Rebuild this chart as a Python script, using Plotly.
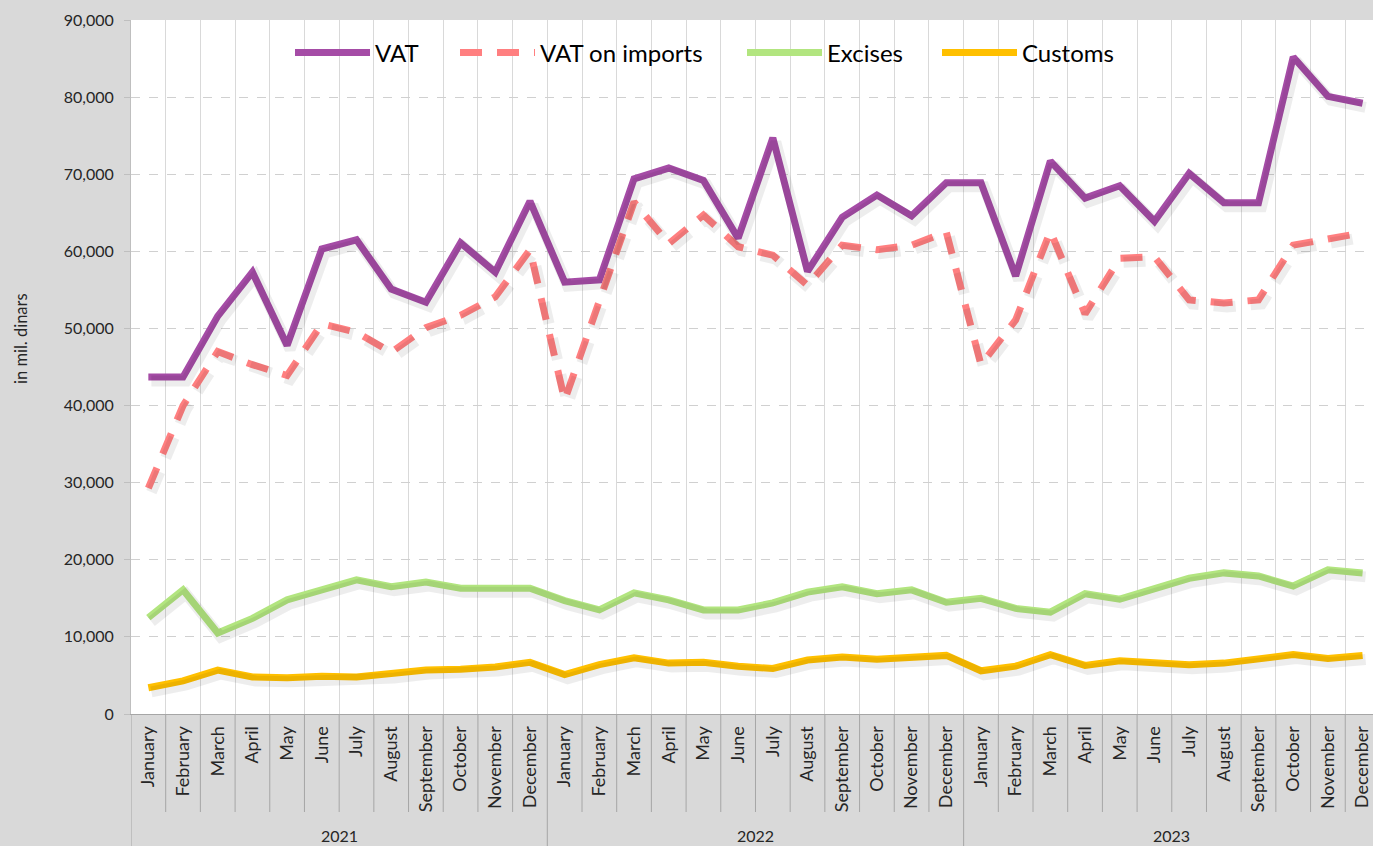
import plotly.graph_objects as go

years = ["2021", "2022", "2023"]
months = ["January", "February", "March", "April", "May", "June", "July",
          "August", "September", "October", "November", "December"]

vat = [43700, 43700, 51600, 57300, 47800, 60300, 61500, 55100, 53400, 61100, 57300, 66500,
       56000, 56300, 69400, 70800, 69200, 61700, 74700, 57400, 64400, 67300, 64600, 68900,
       68900, 56800, 71700, 66900, 68500, 63900, 70100, 66300, 66300, 85200, 80100, 79200]
vat_imports = [29300, 40000, 47000, 45300, 43900, 50600, 49500, 46900, 50100, 51700, 54100, 60200,
               40700, 53700, 66400, 61000, 64700, 60600, 59500, 55600, 60800, 60200, 60800, 62500,
               45300, 51100, 62600, 51900, 59100, 59300, 53700, 53300, 53700, 60800, 61700, 62400]
excises = [12500, 16100, 10500, 12400, 14800, 16100, 17400, 16500, 17100, 16300, 16300, 16300,
           14700, 13500, 15700, 14800, 13500, 13500, 14400, 15800, 16500, 15600, 16100, 14500,
           15000, 13700, 13200, 15600, 14900, 16200, 17600, 18300, 17900, 16600, 18700, 18300]
customs = [3400, 4300, 5700, 4800, 4700, 4900, 4800, 5200, 5700, 5800, 6100, 6700,
           5100, 6400, 7300, 6600, 6700, 6200, 5900, 7000, 7400, 7100, 7400, 7600,
           5600, 6200, 7700, 6300, 6900, 6700, 6400, 6600, 7100, 7700, 7200, 7600]

cats = [f"{m} {y}" for y in years for m in months]
tick_text = [m for y in years for m in months]

FONT = "Lato, 'Open Sans', sans-serif"
TXT = "#262626"

# name, values, colour, dash, legend id, legend sample left edge (px)
series = [
    ("VAT", vat, "#A54CA6", "solid", "legend", 298),
    ("VAT on imports", vat_imports, "#FF7F80", "22px,15px", "legend2", 463),
    ("Excises", excises, "#B2E57F", "solid", "legend3", 750),
    ("Customs", customs, "#FFC000", "solid", "legend4", 945),
]

# plot geometry (px)
W, H = 1373, 846
ml, mr, mt, mb = 131, 0, 20, 132
pw, ph = W - ml - mr, H - mt - mb
XR = [-0.5, 35.3]
YR = [0, 90000]
px_x = (XR[1] - XR[0]) / pw      # data units per px (x)
px_y = (YR[1] - YR[0]) / ph      # data units per px (y)

fig = go.Figure()

# soft drop shadows (offset copies drawn on an overlaid numeric axis)
idx = list(range(len(cats)))
for name, vals, col, dash, lg, lx in series:
    fig.add_trace(go.Scatter(x=[i + 3 * px_x for i in idx], y=[v - 4 * px_y for v in vals],
                             xaxis="x2", mode="lines", showlegend=False, hoverinfo="skip",
                             line=dict(color="rgba(0,0,0,0.07)", width=11, dash=dash)))

for name, vals, col, dash, lg, lx in series:
    fig.add_trace(go.Scatter(x=cats, y=vals, name=name, mode="lines", legend=lg,
                             line=dict(color=col, width=7, dash=dash)))

def py(px_below_axis):
    return -px_below_axis / ph

shapes = []
n = len(cats)
for i in range(n + 1):
    xb = i - 0.5
    is_year = (i % 12 == 0)
    shapes.append(dict(type="line", xref="x", yref="paper", x0=xb, x1=xb,
                       y0=0, y1=py(mb if is_year else 98),
                       line=dict(color="#a6a6a6", width=1), layer="above"))

annotations = []
for k, y in enumerate(years):
    annotations.append(dict(text=y, x=k * 12 + 5.5, xref="x", y=py(121), yref="paper",
                            showarrow=False, xanchor="center", yanchor="middle",
                            font=dict(size=16, color=TXT, family=FONT)))
annotations.append(dict(text="in mil. dinars", textangle=-90, xref="paper", yref="paper",
                        x=(21 - ml) / pw, y=(714 - 339) / ph,
                        xanchor="center", yanchor="middle", showarrow=False,
                        font=dict(size=16.5, color=TXT, family=FONT)))

legend_common = dict(orientation="h", yanchor="middle", y=(714 - 53) / ph, xanchor="left",
                     bgcolor="rgba(0,0,0,0)", font=dict(size=24, color="#000000", family=FONT),
                     itemwidth=75, borderwidth=0)
legends = {}
for name, vals, col, dash, lg, lx in series:
    legends[lg] = dict(legend_common, x=(lx - 8 - ml) / pw)

fig.update_layout(
    width=W, height=H,
    margin=dict(l=ml, r=mr, t=mt, b=mb),
    paper_bgcolor="#d9d9d9", plot_bgcolor="#ffffff",
    font=dict(family=FONT, color=TXT),
    showlegend=True,
    shapes=shapes, annotations=annotations,
    xaxis=dict(type="category", categoryorder="array", categoryarray=cats,
               tickmode="array", tickvals=cats, ticktext=tick_text, tickangle=-90,
               tickson="boundaries", ticks="", showgrid=True, gridcolor="#d9d9d9", gridwidth=1,
               showline=True, linecolor="#a6a6a6", linewidth=1,
               range=XR, tickfont=dict(size=18, color=TXT, family=FONT),
               ticklabelstandoff=4, fixedrange=True),
    xaxis2=dict(overlaying="x", range=XR, visible=False, fixedrange=True),
    yaxis=dict(range=YR, dtick=10000, tickformat=",", showgrid=True,
               gridcolor="#d0d0d0", griddash="dash", gridwidth=1,
               showline=True, linecolor="#bfbfbf", linewidth=1,
               ticks="outside", ticklen=6, tickcolor="#bfbfbf",
               tickfont=dict(size=16, color=TXT, family=FONT), zeroline=False,
               ticklabelstandoff=7, fixedrange=True),
    **legends,
)

fig.write_html("out.html", config={"displayModeBar": False},
               post_script="document.body.style.margin='0';document.body.style.padding='0';")
